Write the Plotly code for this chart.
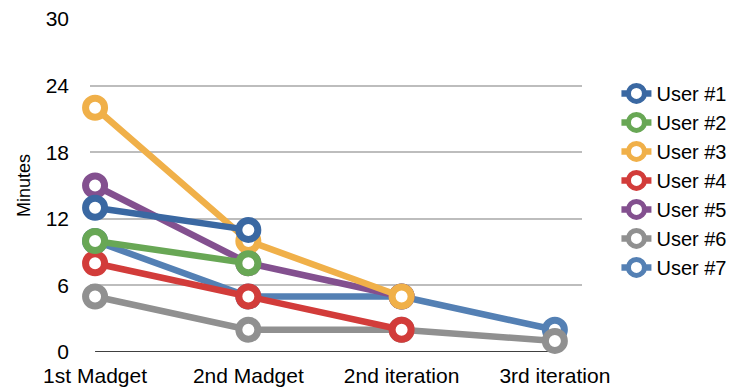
import plotly.graph_objects as go

categories = ["1st Madget", "2nd Madget", "2nd iteration", "3rd iteration"]

user_names = ["User #1", "User #2", "User #3", "User #4", "User #5", "User #6", "User #7"]
user1 = [13, 11, None, None]
user2 = [10, 8, None, None]
user3 = [22, 10, 5, None]
user4 = [8, 5, 2, None]
user5 = [15, 8, 5, None]
user6 = [5, 2, 2, 1]
user7 = [10, 5, 5, 2]
series = [user1, user2, user3, user4, user5, user6, user7]

colors = ["#3A68A2", "#68A755", "#F0B049", "#D23C3A", "#83508F", "#909090", "#5480B4"]

y_ticks = [0, 6, 12, 18, 24, 30]

fig = go.Figure()

# Later users are painted first so User #1 ends up on top
for name, vals, col in reversed(list(zip(user_names, series, colors))):
    xs = [c for c, v in zip(categories, vals) if v is not None]
    ys = [v for v in vals if v is not None]
    fig.add_trace(go.Scatter(
        x=xs, y=ys, name=name, mode="lines+markers",
        line=dict(color=col, width=6.5),
        marker=dict(symbol="circle", size=19, color="white",
                    line=dict(color=col, width=7)),
        cliponaxis=False,
    ))

# Dark baseline running between the first and last category
fig.add_shape(type="line", xref="x", yref="y",
              x0=categories[0], x1=categories[-1], y0=0, y1=0,
              line=dict(color="black", width=1.5), layer="below")

fig.update_layout(
    width=756, height=390,
    margin=dict(l=90, r=174, t=19, b=38, autoexpand=False),
    paper_bgcolor="white", plot_bgcolor="white",
    font=dict(family="Liberation Sans, Arial, sans-serif", size=21, color="black"),
    legend=dict(traceorder="reversed", x=1.07, xanchor="left", y=0.835, yanchor="top",
                font=dict(size=20), itemwidth=30, tracegroupgap=0,
                bgcolor="rgba(0,0,0,0)"),
    showlegend=True,
)
fig.update_xaxes(
    type="category", categoryorder="array", categoryarray=categories,
    range=[-0.033, 3.177], showgrid=False, zeroline=False, showline=False,
    ticks="", tickfont=dict(size=21), ticklabelstandoff=9, automargin=False,
)
fig.update_yaxes(
    range=[0, 30], tickvals=y_ticks, ticktext=[str(t) for t in y_ticks],
    showgrid=True, gridcolor="#BDBDBD", gridwidth=1.5, zeroline=False,
    showline=False, ticks="", tickfont=dict(size=21), ticklabelstandoff=20,
    title=dict(text="Minutes", font=dict(size=18), standoff=10), automargin=False,
)

fig.write_html("out.html")
